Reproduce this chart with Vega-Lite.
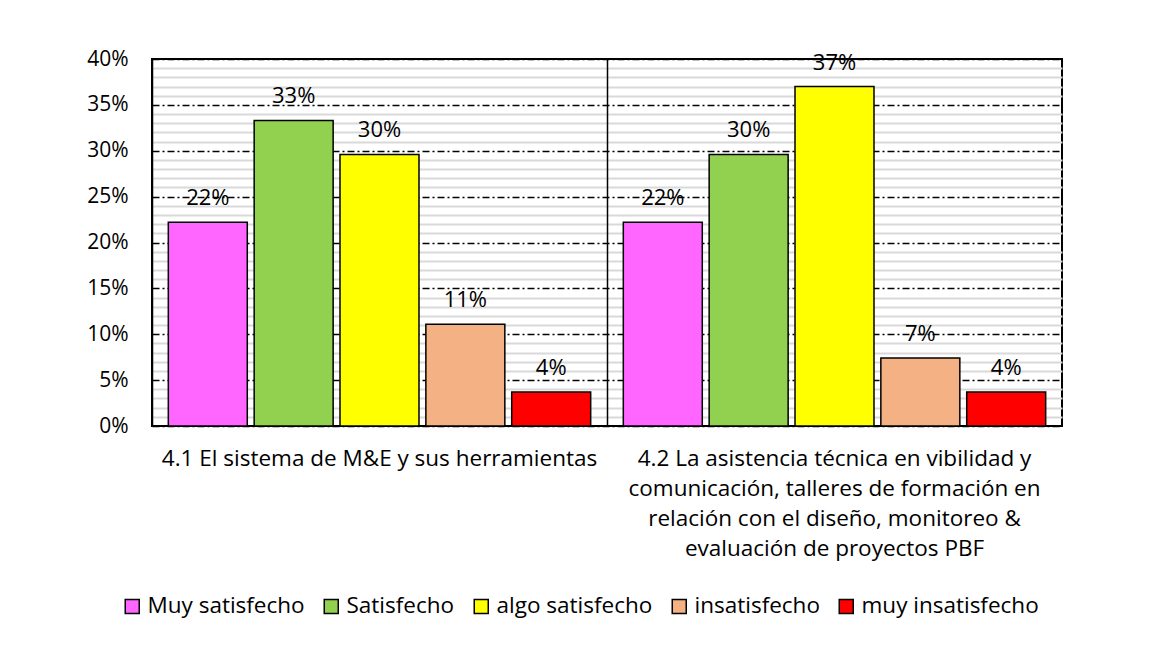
{
  "$schema": "https://vega.github.io/schema/vega-lite/v6.json",
  "width": 910,
  "height": 367,
  "autosize": {"type": "none"},
  "padding": {"left": 152, "top": 59, "right": 92, "bottom": 222},
  "background": "white",
  "config": {
    "font": "Open Sans",
    "view": {"stroke": "black", "strokeWidth": 2}
  },
  "data": {
    "values": [
      {"grupo": "4.1 El sistema de M&E y sus herramientas", "categoria": "Muy satisfecho", "valor": 0.222},
      {"grupo": "4.1 El sistema de M&E y sus herramientas", "categoria": "Satisfecho", "valor": 0.333},
      {"grupo": "4.1 El sistema de M&E y sus herramientas", "categoria": "algo satisfecho", "valor": 0.296},
      {"grupo": "4.1 El sistema de M&E y sus herramientas", "categoria": "insatisfecho", "valor": 0.111},
      {"grupo": "4.1 El sistema de M&E y sus herramientas", "categoria": "muy insatisfecho", "valor": 0.037},
      {"grupo": "4.2 La asistencia técnica en vibilidad y comunicación, talleres de formación en relación con el diseño, monitoreo & evaluación de proyectos PBF", "categoria": "Muy satisfecho", "valor": 0.222},
      {"grupo": "4.2 La asistencia técnica en vibilidad y comunicación, talleres de formación en relación con el diseño, monitoreo & evaluación de proyectos PBF", "categoria": "Satisfecho", "valor": 0.296},
      {"grupo": "4.2 La asistencia técnica en vibilidad y comunicación, talleres de formación en relación con el diseño, monitoreo & evaluación de proyectos PBF", "categoria": "algo satisfecho", "valor": 0.37},
      {"grupo": "4.2 La asistencia técnica en vibilidad y comunicación, talleres de formación en relación con el diseño, monitoreo & evaluación de proyectos PBF", "categoria": "insatisfecho", "valor": 0.074},
      {"grupo": "4.2 La asistencia técnica en vibilidad y comunicación, talleres de formación en relación con el diseño, monitoreo & evaluación de proyectos PBF", "categoria": "muy insatisfecho", "valor": 0.037}
    ]
  },
  "encoding": {
    "x": {
      "field": "grupo",
      "type": "nominal",
      "title": null,
      "scale": {"paddingInner": 0, "paddingOuter": 0},
      "axis": {
        "zindex": 1,
        "labelAngle": 0,
        "labelFontSize": 22.5,
        "labelColor": "black",
        "labelLimit": 0,
        "labelPadding": 21,
        "labelLineHeight": 30,
        "labelBaseline": "top",
        "ticks": false,
        "domain": false,
        "grid": true,
        "bandPosition": 0,
        "gridColor": "black",
        "gridWidth": 1.5,
        "labelExpr": "indexof(datum.label, '4.2') === 0 ? ['4.2 La asistencia técnica en vibilidad y', 'comunicación, talleres de formación en', 'relación con el diseño, monitoreo &', 'evaluación de proyectos PBF'] : datum.label"
      }
    },
    "xOffset": {
      "field": "categoria",
      "type": "nominal",
      "sort": ["Muy satisfecho", "Satisfecho", "algo satisfecho", "insatisfecho", "muy insatisfecho"],
      "scale": {"paddingInner": 0.08, "paddingOuter": 0.19}
    },
    "y": {
      "field": "valor",
      "type": "quantitative",
      "title": null,
      "scale": {"domain": [0, 0.4], "nice": false},
      "axis": {
        "values": [0, 0.01, 0.02, 0.03, 0.04, 0.05, 0.06, 0.07, 0.08, 0.09, 0.1, 0.11, 0.12, 0.13, 0.14, 0.15, 0.16, 0.17, 0.18, 0.19, 0.2, 0.21, 0.22, 0.23, 0.24, 0.25, 0.26, 0.27, 0.28, 0.29, 0.3, 0.31, 0.32, 0.33, 0.34, 0.35, 0.36, 0.37, 0.38, 0.39, 0.4],
        "format": ".0%",
        "labelExpr": "round(datum.value * 100) % 5 === 0 ? datum.label : ''",
        "labelFontSize": 21,
        "labelColor": "black",
        "labelPadding": 24,
        "ticks": false,
        "domain": false,
        "grid": true,
        "gridColor": {"condition": {"test": "round(datum.value * 100) % 5 === 0", "value": "black"}, "value": "#d9d9d9"},
        "gridDash": {"condition": {"test": "round(datum.value * 100) % 5 === 0", "value": [7, 3, 2, 3]}, "value": []},
        "gridWidth": {"condition": {"test": "round(datum.value * 100) % 5 === 0", "value": 1.5}, "value": 2}
      }
    }
  },
  "layer": [
    {
      "mark": {"type": "bar", "stroke": "black", "strokeWidth": 1.5},
      "encoding": {
        "color": {
          "field": "categoria",
          "type": "nominal",
          "title": null,
          "sort": ["Muy satisfecho", "Satisfecho", "algo satisfecho", "insatisfecho", "muy insatisfecho"],
          "scale": {
            "domain": ["Muy satisfecho", "Satisfecho", "algo satisfecho", "insatisfecho", "muy insatisfecho"],
            "range": ["#FF66FF", "#92D050", "#FFFF00", "#F4B183", "#FF0000"]
          },
          "legend": {
            "orient": "none",
            "legendX": -31,
            "legendY": 536,
            "direction": "horizontal",
            "symbolType": "square",
            "symbolSize": 196,
            "symbolStrokeColor": "black",
            "symbolStrokeWidth": 1.5,
            "symbolOpacity": 1,
            "labelFontSize": 22.5,
            "labelColor": "black",
            "labelOffset": 4,
            "labelLimit": 0,
            "columnPadding": 15
          }
        }
      }
    },
    {
      "mark": {"type": "text", "baseline": "alphabetic", "dy": -17, "fontSize": 22, "color": "black"},
      "encoding": {
        "text": {"field": "valor", "type": "quantitative", "format": ".0%"}
      }
    }
  ]
}
